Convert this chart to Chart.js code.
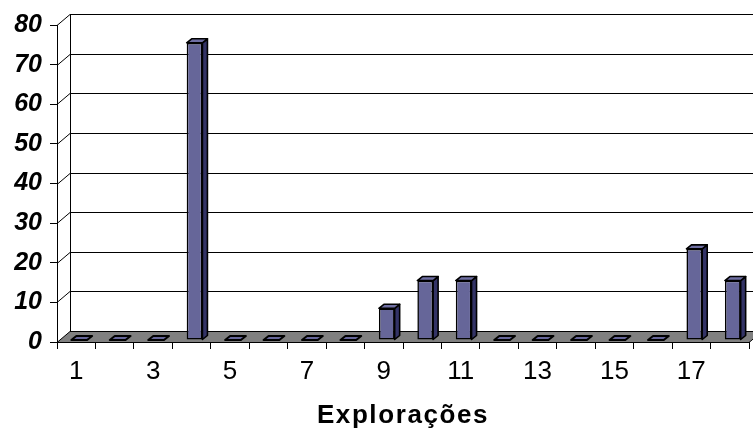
<!DOCTYPE html>
<html>
<head>
<meta charset="utf-8">
<script src="https://cdn.jsdelivr.net/npm/chart.js@4/dist/chart.umd.min.js"></script>
<style>
  html, body { margin: 0; padding: 0; background: #fff; }
  #wrap { width: 753px; height: 437px; position: relative; }
</style>
</head>
<body>
<div id="wrap"><canvas id="c" width="753" height="437"></canvas></div>
<script>
// Chart data
const categories = ['1','2','3','4','5','6','7','8','9','10','11','12','13','14','15','16','17','18'];
const values     = [0, 0, 0, 75, 0, 0, 0, 0, 8, 15, 15, 0, 0, 0, 0, 0, 23, 15];
const yTicks     = [0, 10, 20, 30, 40, 50, 60, 70, 80];
const axisTitle  = 'Explorações';

const FONT = '"Liberation Sans", Arial, Helvetica, sans-serif';

// Pseudo-3D geometry (pixels)
const WALL  = { dx: 13, dy: -11 };  // back wall offset from the front plane
const SHIFT = { dx: 3,  dy: -2 };   // bars sit a little behind the front plane
const DEPTH = { dx: 5,  dy: -4 };   // bar thickness
const FRONT_COLOR = '#666699';
const TOP_COLOR   = '#6f6fa3';
const SIDE_COLOR  = '#333366';
const FLOOR_COLOR = '#808080';

const depth3d = {
  id: 'depth3d',
  beforeDraw(chart) {
    const { ctx, chartArea: a, scales: { x, y } } = chart;

    // wider letter spacing for the category axis title
    if (!x._spacedTitle) {
      const drawTitle = x.drawTitle.bind(x);
      x.drawTitle = function () {
        this.ctx.save();
        this.ctx.letterSpacing = '1.6px';
        drawTitle();
        this.ctx.restore();
      };
      x._spacedTitle = true;
    }

    ctx.save();
    ctx.lineWidth = 1;
    ctx.strokeStyle = '#000';
    // back wall gridlines and the diagonals joining them to the front axis
    yTicks.forEach(v => {
      if (v === 0) return;
      const fy = Math.round(y.getPixelForValue(v)) + 0.5;
      ctx.beginPath();
      ctx.moveTo(a.left, fy);
      ctx.lineTo(a.left + WALL.dx, fy + WALL.dy);
      ctx.lineTo(chart.width + 20, fy + WALL.dy);
      ctx.stroke();
    });
    // back wall left edge
    const y0 = Math.round(y.getPixelForValue(0)) + 0.5;
    const yTop = Math.round(y.getPixelForValue(yTicks[yTicks.length - 1])) + 0.5;
    ctx.beginPath();
    ctx.moveTo(a.left + WALL.dx + 0.5, yTop + WALL.dy);
    ctx.lineTo(a.left + WALL.dx + 0.5, y0 + WALL.dy);
    ctx.stroke();
    // floor
    ctx.beginPath();
    ctx.moveTo(a.left, y0);
    ctx.lineTo(a.right, y0);
    ctx.lineTo(a.right + WALL.dx, y0 + WALL.dy);
    ctx.lineTo(a.left + WALL.dx, y0 + WALL.dy);
    ctx.closePath();
    ctx.fillStyle = FLOOR_COLOR;
    ctx.fill();
    ctx.stroke();
    ctx.restore();
  },
  beforeDatasetsDraw(chart) {
    const { ctx } = chart;
    ctx.save();
    ctx.translate(SHIFT.dx, SHIFT.dy);
    ctx.strokeStyle = '#000';
    ctx.lineJoin = 'round';
    chart.getDatasetMeta(0).data.forEach(el => {
      const { x, y, base, width } = el.getProps(['x', 'y', 'base', 'width'], true);
      const l = x - width / 2, r = x + width / 2;
      const top = Math.min(y, base), bot = Math.max(y, base);
      const solid = bot - top > 0.5;
      ctx.lineWidth = solid ? 1.6 : 2;
      // side face
      if (solid) {
        ctx.beginPath();
        ctx.moveTo(r, top);
        ctx.lineTo(r + DEPTH.dx, top + DEPTH.dy);
        ctx.lineTo(r + DEPTH.dx, bot + DEPTH.dy);
        ctx.lineTo(r, bot);
        ctx.closePath();
        ctx.fillStyle = SIDE_COLOR;
        ctx.fill();
        ctx.stroke();
      }
      // top face
      ctx.beginPath();
      ctx.moveTo(l, top);
      ctx.lineTo(l + DEPTH.dx, top + DEPTH.dy);
      ctx.lineTo(r + DEPTH.dx, top + DEPTH.dy);
      ctx.lineTo(r, top);
      ctx.closePath();
      ctx.fillStyle = solid ? TOP_COLOR : FRONT_COLOR;
      ctx.fill();
      ctx.stroke();
    });
    // front faces are drawn by the bar controller inside the same offset
  },
  afterDatasetsDraw(chart) {
    chart.ctx.restore();
  }
};

new Chart(document.getElementById('c'), {
  type: 'bar',
  data: {
    labels: categories,
    datasets: [{
      data: values,
      backgroundColor: FRONT_COLOR,
      borderColor: '#000',
      borderWidth: 1.6,
      borderSkipped: false,
      barPercentage: 0.41,
      categoryPercentage: 1
    }]
  },
  options: {
    responsive: false,
    animation: false,
    devicePixelRatio: 1,
    layout: { padding: { top: 25, right: 4, left: 0, bottom: 0 } },
    plugins: {
      legend: { display: false },
      tooltip: { enabled: false }
    },
    scales: {
      x: {
        offset: true,
        grid: {
          display: true, offset: true, drawOnChartArea: false,
          drawTicks: true, tickLength: 7, color: '#000'
        },
        border: { display: true, color: '#000', width: 1 },
        ticks: {
          autoSkip: false, maxRotation: 0, minRotation: 0, padding: 7,
          color: '#000',
          font: { family: FONT, size: 26 },
          callback: (val, i) => (i % 2 === 0 ? categories[i] : '')
        },
        title: {
          display: true, text: axisTitle, color: '#000',
          font: { family: FONT, size: 26, weight: 'bold' },
          padding: { top: 0, bottom: 6 }
        },
        afterFit: s => { s.height = 95; }
      },
      y: {
        min: 0, max: 80,
        afterBuildTicks: s => { s.ticks = yTicks.map(v => ({ value: v })); },
        grid: {
          display: true, drawOnChartArea: false,
          drawTicks: true, tickLength: 7, color: '#000'
        },
        border: { display: true, color: '#000', width: 1 },
        ticks: {
          padding: 8, color: '#000',
          font: { family: FONT, size: 25, weight: 'bold', style: 'italic' }
        },
        afterFit: s => { s.width = 57; }
      }
    }
  },
  plugins: [depth3d]
});
</script>
</body>
</html>
